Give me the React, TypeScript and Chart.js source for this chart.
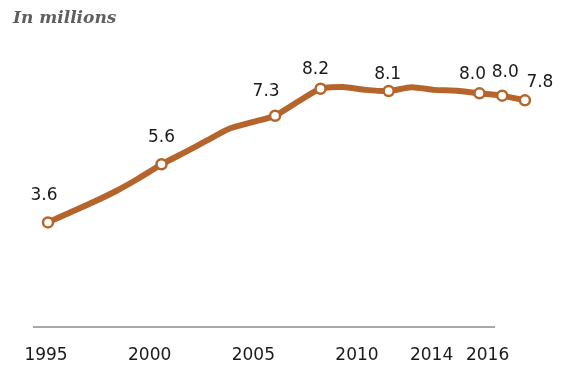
import { useEffect, useRef } from "react";
import { Chart, registerables } from "chart.js";

Chart.register(...registerables);

// ---- data ----
const titleText = "In millions";
const years = [
  1995, 1996, 1997, 1998, 1999, 2000, 2001, 2002, 2003, 2004, 2005,
  2006, 2007, 2008, 2009, 2010, 2011, 2012, 2013, 2014, 2015, 2016,
];
const values = [
  3.6, 3.95, 4.3, 4.68, 5.12, 5.6, 6.0, 6.42, 6.83, 7.05, 7.27,
  7.75, 8.2, 8.26, 8.16, 8.12, 8.25, 8.16, 8.13, 8.04, 7.96, 7.8,
];
const labeledYears = [1995, 2000, 2005, 2007, 2010, 2014, 2015, 2016];
const tickYears = [1995, 2000, 2005, 2010, 2014, 2016];
const tickLabels = ["1995", "2000", "2005", "2010", "2014", "2016"];

// ---- layout / style ----
const LINE_COLOR = "#B5652B";
const TEXT_COLOR = "#1a1a1a";
const AXIS_LINE_WIDTH_PX = 460;
const labelOffsets: [number, number][] = [
  [-4, -27], [0, -27], [-9, -24], [-5, -19], [-1, -16], [-7, -19], [3, -23], [15, -18],
];
const tickNudge = [0, 0, 0, 0, -0.4, 0.3];

const valueLabelPlugin = {
  id: "valueLabels",
  afterLayout(chart: any) {
    const s = chart.scales.xt;
    if (s) {
      s.left = chart.chartArea.left;
      s.right = s.left + AXIS_LINE_WIDTH_PX;
      s.width = AXIS_LINE_WIDTH_PX;
      s.configure();
    }
  },
  afterDatasetsDraw(chart: any) {
    const meta = chart.getDatasetMeta(0);
    const ctx = chart.ctx as CanvasRenderingContext2D;
    ctx.save();
    ctx.font = "17px 'DejaVu Sans'";
    ctx.fillStyle = TEXT_COLOR;
    ctx.textAlign = "center";
    ctx.textBaseline = "middle";
    labeledYears.forEach((yr, k) => {
      const i = years.indexOf(yr);
      const el = meta.data[i];
      if (!el) return;
      const [dx, dy] = labelOffsets[k];
      ctx.fillText(values[i].toFixed(1), el.x + dx, el.y + dy);
    });
    ctx.restore();
  },
};

export default function App() {
  const ref = useRef<HTMLCanvasElement | null>(null);

  useEffect(() => {
    if (!ref.current) return;
    const chart = new Chart(ref.current, {
      type: "line",
      data: {
        datasets: [
          {
            data: years.map((y, i) => ({ x: y, y: values[i] })),
            borderColor: LINE_COLOR,
            borderWidth: 6,
            borderJoinStyle: "round",
            borderCapStyle: "round",
            tension: 0.2,
            pointRadius: (c: any) => (labeledYears.includes(years[c.dataIndex]) ? 5 : 0),
            pointHoverRadius: (c: any) => (labeledYears.includes(years[c.dataIndex]) ? 5 : 0),
            pointBackgroundColor: "#ffffff",
            pointBorderColor: LINE_COLOR,
            pointBorderWidth: 2.5,
            fill: false,
          },
        ],
      },
      options: {
        responsive: false,
        animation: false,
        events: [],
        layout: { padding: { left: 13, right: 29, top: 0, bottom: 0 } },
        plugins: {
          legend: { display: false },
          tooltip: { enabled: false },
          title: {
            display: true,
            text: titleText,
            align: "start",
            color: "#5f5f5f",
            font: { family: "'DejaVu Serif'", size: 17, style: "italic", weight: "bold" },
            padding: { top: 8, bottom: 8 },
          },
        },
        scales: {
          x: {
            type: "linear",
            display: false,
            min: 1994.384,
            max: 2016.664,
          },
          xt: {
            type: "linear",
            position: "bottom",
            min: 1994.42,
            max: 2016.61,
            grid: { display: false, drawTicks: false },
            border: { display: true, color: "#a8a8a8", width: 2 },
            afterBuildTicks: (s: any) => {
              s.ticks = tickYears.map((y, i) => ({ value: y + tickNudge[i] }));
            },
            afterFit: (s: any) => {
              s.height = 42;
              s.paddingLeft = 0;
              s.paddingRight = 0;
            },
            ticks: {
              autoSkip: false,
              maxRotation: 0,
              padding: 18,
              color: TEXT_COLOR,
              font: { family: "'DejaVu Sans'", size: 17 },
              callback: (_v: any, idx: number) => tickLabels[idx],
            },
          },
          y: {
            type: "linear",
            min: 0,
            max: 10,
            grid: { display: false, drawTicks: false },
            border: { display: false },
            ticks: { display: false },
            afterFit: (s: any) => {
              s.width = 21;
              s.paddingTop = 0;
              s.paddingBottom = 0;
            },
          },
        },
      },
      plugins: [valueLabelPlugin],
    });
    return () => chart.destroy();
  }, []);

  return (
    <div style={{ position: "absolute", left: 0, top: 0, width: 569, height: 369 }}>
      <canvas ref={ref} width={569} height={369} style={{ width: 569, height: 369 }} />
    </div>
  );
}
